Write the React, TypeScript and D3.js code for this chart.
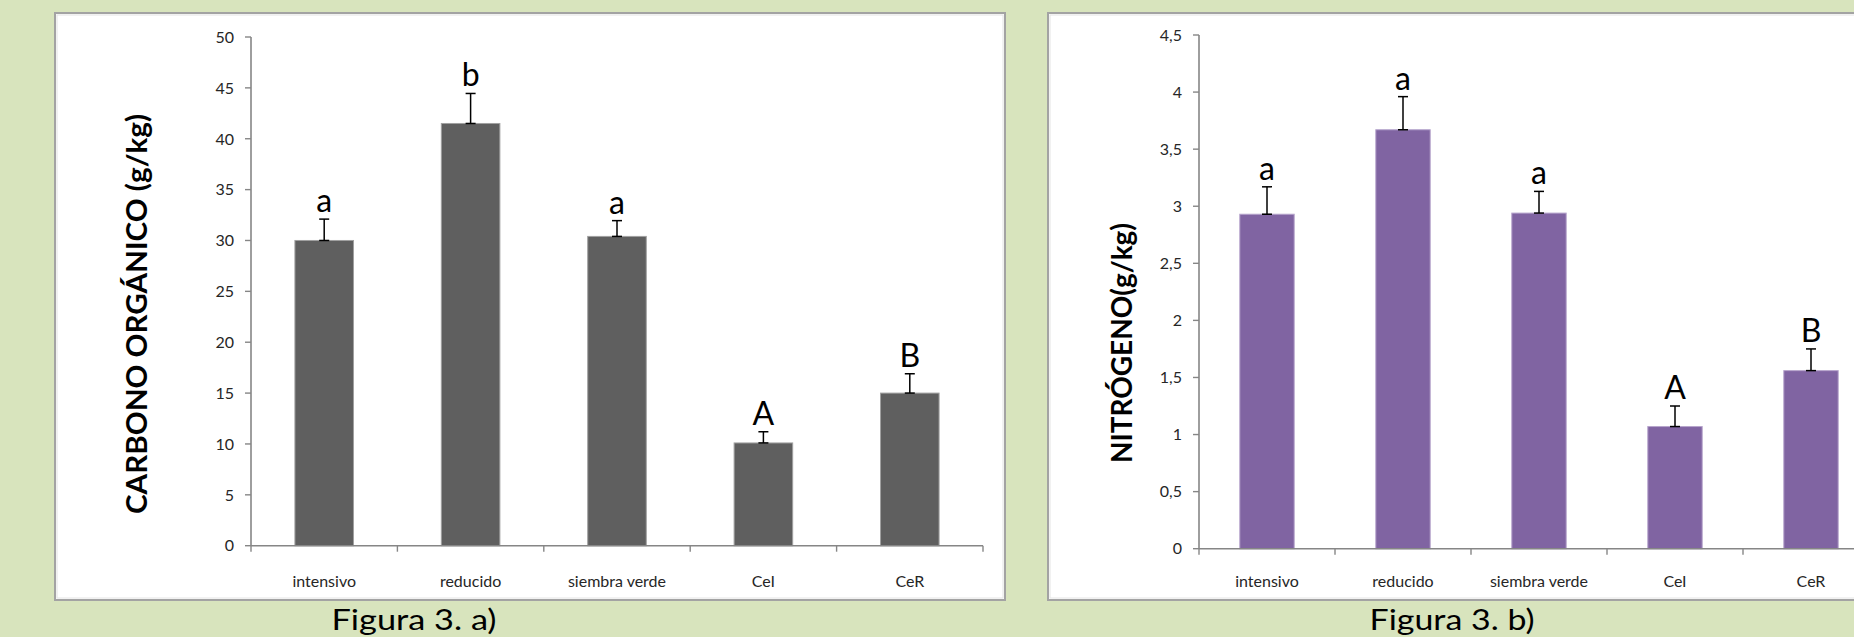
import React from "react";
import * as d3 from "d3";

// Treatments shared by both figures
const categories = ["intensivo", "reducido", "siembra verde", "CeI", "CeR"];

// Figura 3. a) organic carbon (g/kg), mean and upper error
const carbonValues = [30.0, 41.5, 30.4, 10.1, 15.0];
const carbonErrors = [2.1, 2.95, 1.55, 1.1, 1.9];
const carbonLetters = ["a", "b", "a", "A", "B"];
const carbonTicks = [0, 5, 10, 15, 20, 25, 30, 35, 40, 45, 50];
const carbonTickLabels = ["0", "5", "10", "15", "20", "25", "30", "35", "40", "45", "50"];

// Figura 3. b) nitrogen (g/kg), mean and upper error
const nitrogenValues = [2.93, 3.67, 2.94, 1.07, 1.56];
const nitrogenErrors = [0.24, 0.29, 0.19, 0.18, 0.19];
const nitrogenLetters = ["a", "a", "a", "A", "B"];
const nitrogenTicks = [0, 0.5, 1, 1.5, 2, 2.5, 3, 3.5, 4, 4.5];
const nitrogenTickLabels = ["0", "0,5", "1", "1,5", "2", "2,5", "3", "3,5", "4", "4,5"];

const W = 1854;
const H = 637;
const FONT = "Lato, 'Open Sans', 'DejaVu Sans', sans-serif";

type PanelProps = {
  frame: [number, number, number, number];
  xRange: [number, number];
  yRange: [number, number];
  yMax: number;
  values: number[];
  errors: number[];
  letters: string[];
  ticks: number[];
  tickLabels: string[];
  fill: string;
  stroke: string;
  title: string;
  titleX: number;
  titleY: number;
  titleLen: number;
  caption: string;
  captionX: number;
  clipId: string;
};

function Panel(p: PanelProps) {
  const [fx, fy, fw, fh] = p.frame;
  const x = d3
    .scaleBand<string>()
    .domain(categories)
    .range(p.xRange)
    .paddingInner(0.6)
    .paddingOuter(0.3);
  const y = d3.scaleLinear().domain([0, p.yMax]).range(p.yRange);
  const x0 = p.xRange[0];
  const x1 = p.xRange[1];
  const y0 = y(0);
  const step = x.step();
  const bounds = d3.range(categories.length + 1).map((i) => x0 + i * step);
  const axisColor = "#868686";

  return (
    <g>
      <rect x={fx} y={fy} width={fw} height={fh} fill="#ffffff" stroke="#a3a3a3" strokeWidth={2} />
      <rect x={fx + 2} y={fy + 2} width={fw - 4} height={fh - 4} fill="none" stroke="#e4e4e4" strokeWidth={1} />

      {/* y axis */}
      <line x1={x0} x2={x0} y1={y(p.yMax)} y2={y0} stroke={axisColor} strokeWidth={1.6} />
      {p.ticks.map((t, i) => (
        <g key={"yt" + i}>
          <line x1={x0 - 6} x2={x0} y1={y(t)} y2={y(t)} stroke={axisColor} strokeWidth={1.4} />
          <text
            x={x0 - 17}
            y={y(t)}
            dy="0.36em"
            textAnchor="end"
            fontFamily={FONT}
            fontSize={16}
            fill="#262626"
          >
            {p.tickLabels[i]}
          </text>
        </g>
      ))}

      {/* bars */}
      {categories.map((c, i) => (
        <rect
          key={"b" + i}
          x={x(c)}
          y={y(p.values[i])}
          width={x.bandwidth()}
          height={y0 - y(p.values[i])}
          fill={p.fill}
          stroke={p.stroke}
          strokeWidth={1}
        />
      ))}

      {/* x axis */}
      <line x1={x0} x2={x1} y1={y0} y2={y0} stroke={axisColor} strokeWidth={1.6} />
      {bounds.map((bx, i) => (
        <line key={"xt" + i} x1={bx} x2={bx} y1={y0} y2={y0 + 6} stroke={axisColor} strokeWidth={1.4} />
      ))}
      {categories.map((c, i) => (
        <text
          key={"xl" + i}
          x={(x(c) as number) + x.bandwidth() / 2}
          y={587}
          textAnchor="middle"
          fontFamily={FONT}
          fontSize={16}
          fill="#262626"
        >
          {c}
        </text>
      ))}

      {/* error bars and significance letters */}
      {categories.map((c, i) => {
        const cx = (x(c) as number) + x.bandwidth() / 2;
        const yb = y(p.values[i]);
        const yt = y(p.values[i] + p.errors[i]);
        return (
          <g key={"e" + i}>
            <line x1={cx} x2={cx} y1={yb} y2={yt} stroke="#000" strokeWidth={1.5} />
            <line x1={cx - 5} x2={cx + 5} y1={yt} y2={yt} stroke="#000" strokeWidth={1.5} />
            <line x1={cx - 5} x2={cx + 5} y1={yb} y2={yb} stroke="#000" strokeWidth={1.5} />
            <text x={cx} y={yt - 7} textAnchor="middle" fontFamily={FONT} fontSize={32} fill="#000">
              {p.letters[i]}
            </text>
          </g>
        );
      })}

      {/* y axis title */}
      <text
        transform={`translate(${p.titleX},${p.titleY}) rotate(-90)`}
        textAnchor="middle"
        dy="0.36em"
        fontFamily={FONT}
        fontWeight="bold"
        fontSize={28}
        textLength={p.titleLen}
        lengthAdjust="spacingAndGlyphs"
        fill="#000"
      >
        {p.title}
      </text>

      {/* caption under the frame */}
      <text
        x={p.captionX}
        y={630}
        textAnchor="middle"
        fontFamily={FONT}
        fontSize={28}
        textLength={165}
        lengthAdjust="spacingAndGlyphs"
        fill="#000"
      >
        {p.caption}
      </text>
    </g>
  );
}

export default function App() {
  return (
    <svg
      width={W}
      height={H}
      viewBox={`0 0 ${W} ${H}`}
      style={{ position: "absolute", left: 0, top: 0, display: "block" }}
    >
      <rect x={0} y={0} width={W} height={H} fill="#d8e4bd" />
      <Panel
        frame={[55, 13, 950, 587]}
        xRange={[251, 983]}
        yRange={[545.7, 37]}
        yMax={50}
        values={carbonValues}
        errors={carbonErrors}
        letters={carbonLetters}
        ticks={carbonTicks}
        tickLabels={carbonTickLabels}
        fill="#5f5f5f"
        stroke="#a0a0a0"
        title="CARBONO ORGÁNICO (g/kg)"
        titleX={137}
        titleY={314}
        titleLen={400}
        caption="Figura 3. a)"
        captionX={414}
        clipId="ca"
      />
      <Panel
        frame={[1048, 13, 853, 587]}
        xRange={[1199, 1879]}
        yRange={[548.7, 35]}
        yMax={4.5}
        values={nitrogenValues}
        errors={nitrogenErrors}
        letters={nitrogenLetters}
        ticks={nitrogenTicks}
        tickLabels={nitrogenTickLabels}
        fill="#8064a2"
        stroke="#b6a4cc"
        title="NITRÓGENO(g/kg)"
        titleX={1122}
        titleY={343}
        titleLen={240}
        caption="Figura 3. b)"
        captionX={1452}
        clipId="cb"
      />
    </svg>
  );
}
